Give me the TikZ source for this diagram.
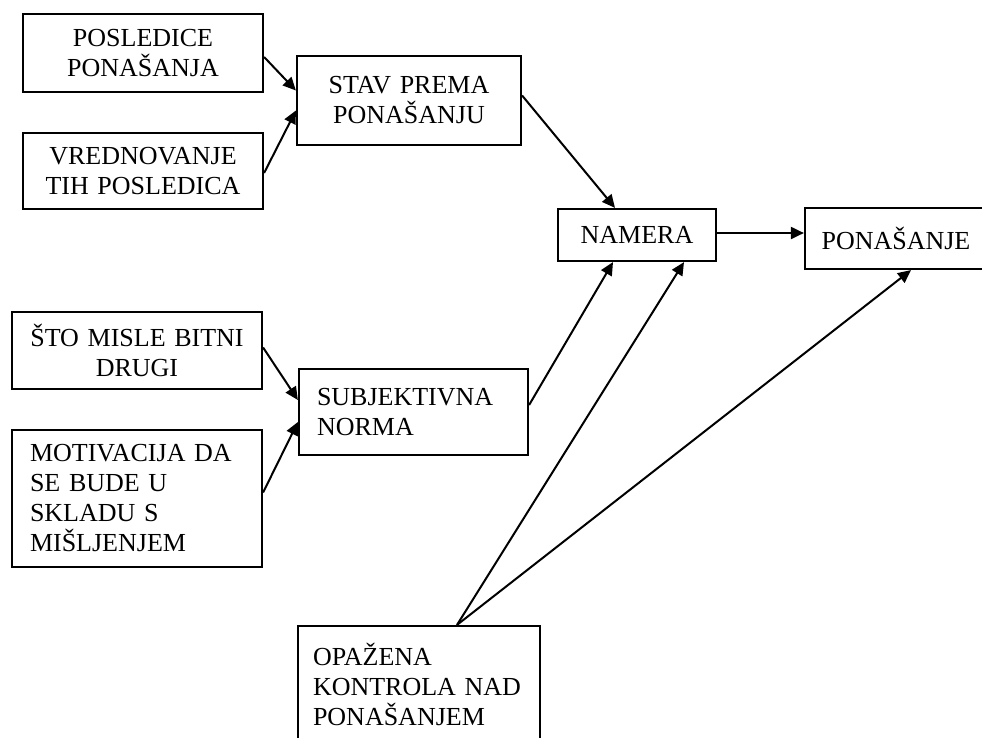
\documentclass[tikz,border=0pt]{standalone}
\usepackage{fontspec}
\setmainfont{Liberation Serif}
\usetikzlibrary{arrows.meta, calc}

\begin{document}
\begin{tikzpicture}[
  x=1pt, y=-1pt,
  n/.style={draw, rectangle, line width=2.2pt, inner sep=0pt,
            font=\fontsize{26}{30}\selectfont, align=center},
  nl/.style={n, inner xsep=18pt, align=left},
  arr/.style={line width=2pt, -{Triangle[length=13pt, width=12pt]}}
]
  \useasboundingbox (0,0) rectangle (982,737);

  \node[n, minimum width=240, minimum height=78, text width=240] (pos) at (143,53)
    {POSLEDICE\\PONAŠANJA};
  \node[n, minimum width=240, minimum height=76, text width=240] (vre) at (143,171)
    {VREDNOVANJE\\TIH POSLEDICA};
  \node[n, minimum width=224, minimum height=89, text width=224] (stav) at (409,100.5)
    {STAV PREMA\\PONAŠANJU};
  \node[n, minimum width=158, minimum height=52, text width=158] (nam) at (637,235)
    {NAMERA};
  \node[n, minimum width=182, minimum height=61, text width=182] (pon) at (896,238.5)
    {PONAŠANJE};
  \node[n, minimum width=250, minimum height=77, text width=250] (sto) at (137,350.5)
    {ŠTO MISLE BITNI\\DRUGI};
  \node[nl, minimum width=250, minimum height=137, text width=214] (mot) at (137,498.5)
    {MOTIVACIJA DA\\SE BUDE U\\SKLADU S\\MIŠLJENJEM};
  \node[nl, minimum width=229, minimum height=86, text width=193] (sub) at (413.5,412)
    {SUBJEKTIVNA\\NORMA};
  \node[nl, inner xsep=15pt, minimum width=242, minimum height=116, text width=212] (opa) at (419,684)
    {OPAŽENA\\KONTROLA NAD\\PONAŠANJEM};
  \coordinate (ok) at ($(opa.north)+(38,0)$);

  \draw[arr] ($(pos.east)+(0,4)$) -- ($(stav.west)+(0,-10)$);
  \draw[arr] ($(vre.east)+(0,2)$) -- ($(stav.west)+(0,10)$);
  \draw[arr] ($(stav.east)+(0,-5)$) -- ($(nam.north)+(-22,0)$);
  \draw[arr] ($(nam.east)+(0,-2)$) -- ($(nam.east -| pon.west)+(0,-2)$);
  \draw[arr] ($(sto.east)+(0,-3)$) -- ($(sub.west)+(0,-12)$);
  \draw[arr] ($(mot.east)+(0,-6)$) -- ($(sub.west)+(0,10)$);
  \draw[arr] ($(sub.east)+(0,-7)$) -- ($(nam.south)+(-24,0)$);
  \draw[arr] (ok) -- ($(nam.south)+(47,0)$);
  \draw[arr] (ok) -- ($(pon.south)+(15,0)$);
\end{tikzpicture}
\end{document}
